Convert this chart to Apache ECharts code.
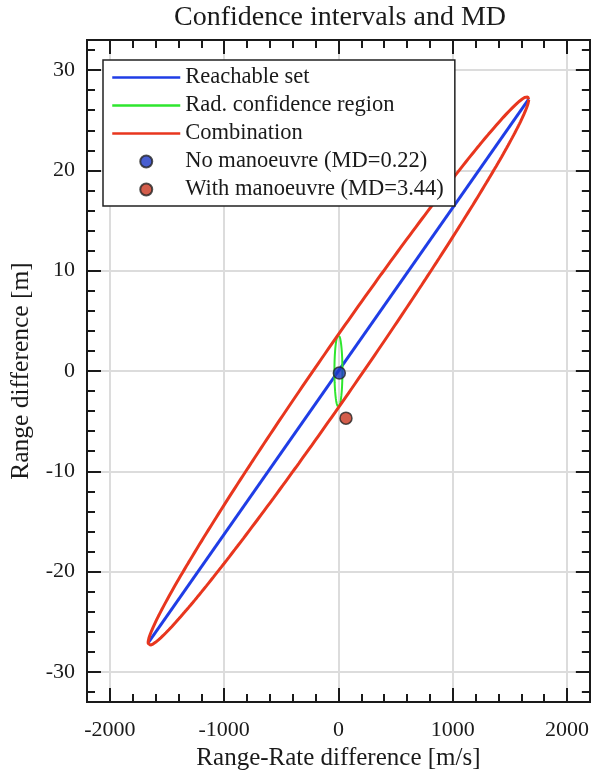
<!DOCTYPE html>
<html><head><meta charset="utf-8">
<script src="https://cdn.jsdelivr.net/npm/echarts@6/dist/echarts.min.js"></script>
<style>html,body{margin:0;padding:0;background:#fff}#c{width:592px;height:776px}</style>
</head><body><div id="c"></div>
<script>
// ---- data ----
const titleText = 'Confidence intervals and MD';
const xAxisTitle = 'Range-Rate difference [m/s]';
const yAxisTitle = 'Range difference [m]';
const xRange = [-2200, 2200];
const yRange = [-33, 33];
const xMajorTicks = [-2000, -1000, 0, 1000, 2000];
const yMajorTicks = [-30, -20, -10, 0, 10, 20, 30];
const xMinorTicks = [-2200,-2000,-1800,-1600,-1400,-1200,-1000,-800,-600,-400,-200,0,200,400,600,800,1000,1200,1400,1600,1800,2000,2200];
const yMinorTicks = [-32,-30,-28,-26,-24,-22,-20,-18,-16,-14,-12,-10,-8,-6,-4,-2,0,2,4,6,8,10,12,14,16,18,20,22,24,26,28,30,32];
const seriesNames = ['Reachable set', 'Rad. confidence region', 'Combination', 'No manoeuvre (MD=0.22)', 'With manoeuvre (MD=3.44)'];
// reachable set: segment between these two end points
const reachableStart = [-1665, -27.1];
const reachableEnd = [1665, 27.1];
// radial confidence region: ellipse centre and semi-axes
const radCenter = [0, 0];
const radSemiAxes = [35, 3.6];
// points
const noManoeuvrePoint = [8, -0.2];
const withManoeuvrePoint = [66, -4.7];

// ---- ellipse outlines from the parameters ----
const N = 360;
function radEllipse() {
  const pts = [];
  for (let i = 0; i <= N; i++) {
    const t = 2 * Math.PI * i / N;
    pts.push([radCenter[0] + radSemiAxes[0] * Math.cos(t), radCenter[1] + radSemiAxes[1] * Math.sin(t)]);
  }
  return pts;
}
function combinationEllipse() {
  // shape matrix = r r^T + diag(a^2, b^2)
  const r = reachableEnd;
  const cxx = r[0] * r[0] + radSemiAxes[0] * radSemiAxes[0];
  const cxy = r[0] * r[1];
  const cyy = r[1] * r[1] + radSemiAxes[1] * radSemiAxes[1];
  const l11 = Math.sqrt(cxx), l21 = cxy / l11, l22 = Math.sqrt(cyy - l21 * l21);
  const pts = [];
  for (let i = 0; i <= N; i++) {
    const t = 2 * Math.PI * i / N;
    const c = Math.cos(t), s = Math.sin(t);
    pts.push([radCenter[0] + l11 * c, radCenter[1] + l21 * c + l22 * s]);
  }
  return pts;
}

const FONT = 'Liberation Serif';
const axisColor = '#1a1a1a';
const gridColor = '#dcdcdc';
const BLUE = '#1f3de6', GREEN = '#2ee62e', RED = '#e8361e';

function xAx(pos, ticks, len, labels, split) {
  return {
    type: 'value', position: pos, min: xRange[0], max: xRange[1],
    axisLine: { show: true, onZero: false, lineStyle: { color: axisColor, width: 2 } },
    axisTick: { show: true, inside: true, length: len, customValues: ticks, lineStyle: { color: axisColor, width: 2 } },
    axisLabel: { show: labels, customValues: ticks, margin: 17, color: '#1a1a1a', fontFamily: FONT, fontSize: 22,
      formatter: v => String(v) },
    splitLine: { show: split, lineStyle: { color: gridColor, width: 2 } },
    name: labels ? xAxisTitle : '', nameLocation: 'middle', nameGap: 44,
    nameTextStyle: { color: '#1a1a1a', fontFamily: FONT, fontSize: 25 }
  };
}
function yAx(pos, ticks, len, labels, split) {
  return {
    type: 'value', position: pos, min: yRange[0], max: yRange[1],
    axisLine: { show: true, onZero: false, lineStyle: { color: axisColor, width: 2 } },
    axisTick: { show: true, inside: true, length: len, customValues: ticks, lineStyle: { color: axisColor, width: 2 } },
    axisLabel: { show: labels, customValues: ticks, margin: 12, color: '#1a1a1a', fontFamily: FONT, fontSize: 22,
      formatter: v => String(v) },
    splitLine: { show: split, lineStyle: { color: gridColor, width: 2 } },
    name: labels ? yAxisTitle : '', nameLocation: 'middle', nameGap: 44,
    nameTextStyle: { color: '#1a1a1a', fontFamily: FONT, fontSize: 25.5 }
  };
}

const chart = echarts.init(document.getElementById('c'), null, { renderer: 'canvas' });
chart.setOption({
  animation: false,
  backgroundColor: '#fff',
  title: {
    text: titleText, left: 340, top: 4, textAlign: 'center', padding: 0,
    textStyle: { fontFamily: FONT, fontSize: 28, fontWeight: 'normal', color: '#1a1a1a' }
  },
  grid: { left: 87, right: -1, top: 40, bottom: 70 },
  xAxis: [
    xAx('bottom', xMajorTicks, 14, true, true),
    xAx('bottom', xMinorTicks, 8, false, false),
    xAx('top', xMajorTicks, 14, false, false),
    xAx('top', xMinorTicks, 8, false, false)
  ],
  yAxis: [
    yAx('left', yMajorTicks, 14, true, true),
    yAx('left', yMinorTicks, 8, false, false),
    yAx('right', yMajorTicks, 14, false, false),
    yAx('right', yMinorTicks, 8, false, false)
  ],
  legend: {
    orient: 'vertical', left: 103, top: 60,
    padding: [6, 11, 5, 8],
    backgroundColor: '#fff', borderColor: '#222', borderWidth: 1.5,
    itemWidth: 68, itemHeight: 12, itemGap: 5,
    lineStyle: { width: 2.5 },
    textStyle: { fontFamily: FONT, fontSize: 22.5, color: '#1a1a1a', lineHeight: 20 },
    data: [
      { name: seriesNames[0], itemStyle: { opacity: 0 } },
      { name: seriesNames[1], itemStyle: { opacity: 0 } },
      { name: seriesNames[2], itemStyle: { opacity: 0 } },
      { name: seriesNames[3] },
      { name: seriesNames[4] }
    ],
    z: 10
  },
  series: [
    { name: seriesNames[0], type: 'line', xAxisIndex: 0, yAxisIndex: 0, showSymbol: false, symbol: 'none',
      data: [reachableStart, reachableEnd], lineStyle: { color: BLUE, width: 3 }, itemStyle: { color: BLUE }, z: 3 },
    { name: seriesNames[1], type: 'line', xAxisIndex: 0, yAxisIndex: 0, showSymbol: false, symbol: 'none',
      data: radEllipse(), lineStyle: { color: GREEN, width: 2 }, itemStyle: { color: GREEN }, z: 3 },
    { name: seriesNames[2], type: 'line', xAxisIndex: 0, yAxisIndex: 0, showSymbol: false, symbol: 'none',
      data: combinationEllipse(), lineStyle: { color: RED, width: 3 }, itemStyle: { color: RED }, z: 3 },
    { name: seriesNames[3], type: 'scatter', xAxisIndex: 0, yAxisIndex: 0, symbol: 'circle', symbolSize: 12,
      data: [noManoeuvrePoint], itemStyle: { color: '#1a36c4', borderColor: '#262626', borderWidth: 1.5 }, z: 5 },
    { name: seriesNames[4], type: 'scatter', xAxisIndex: 0, yAxisIndex: 0, symbol: 'circle', symbolSize: 12,
      data: [withManoeuvrePoint], itemStyle: { color: '#c8351e', borderColor: '#262626', borderWidth: 1.5 }, z: 5 }
  ]
});
</script>
</body></html>
